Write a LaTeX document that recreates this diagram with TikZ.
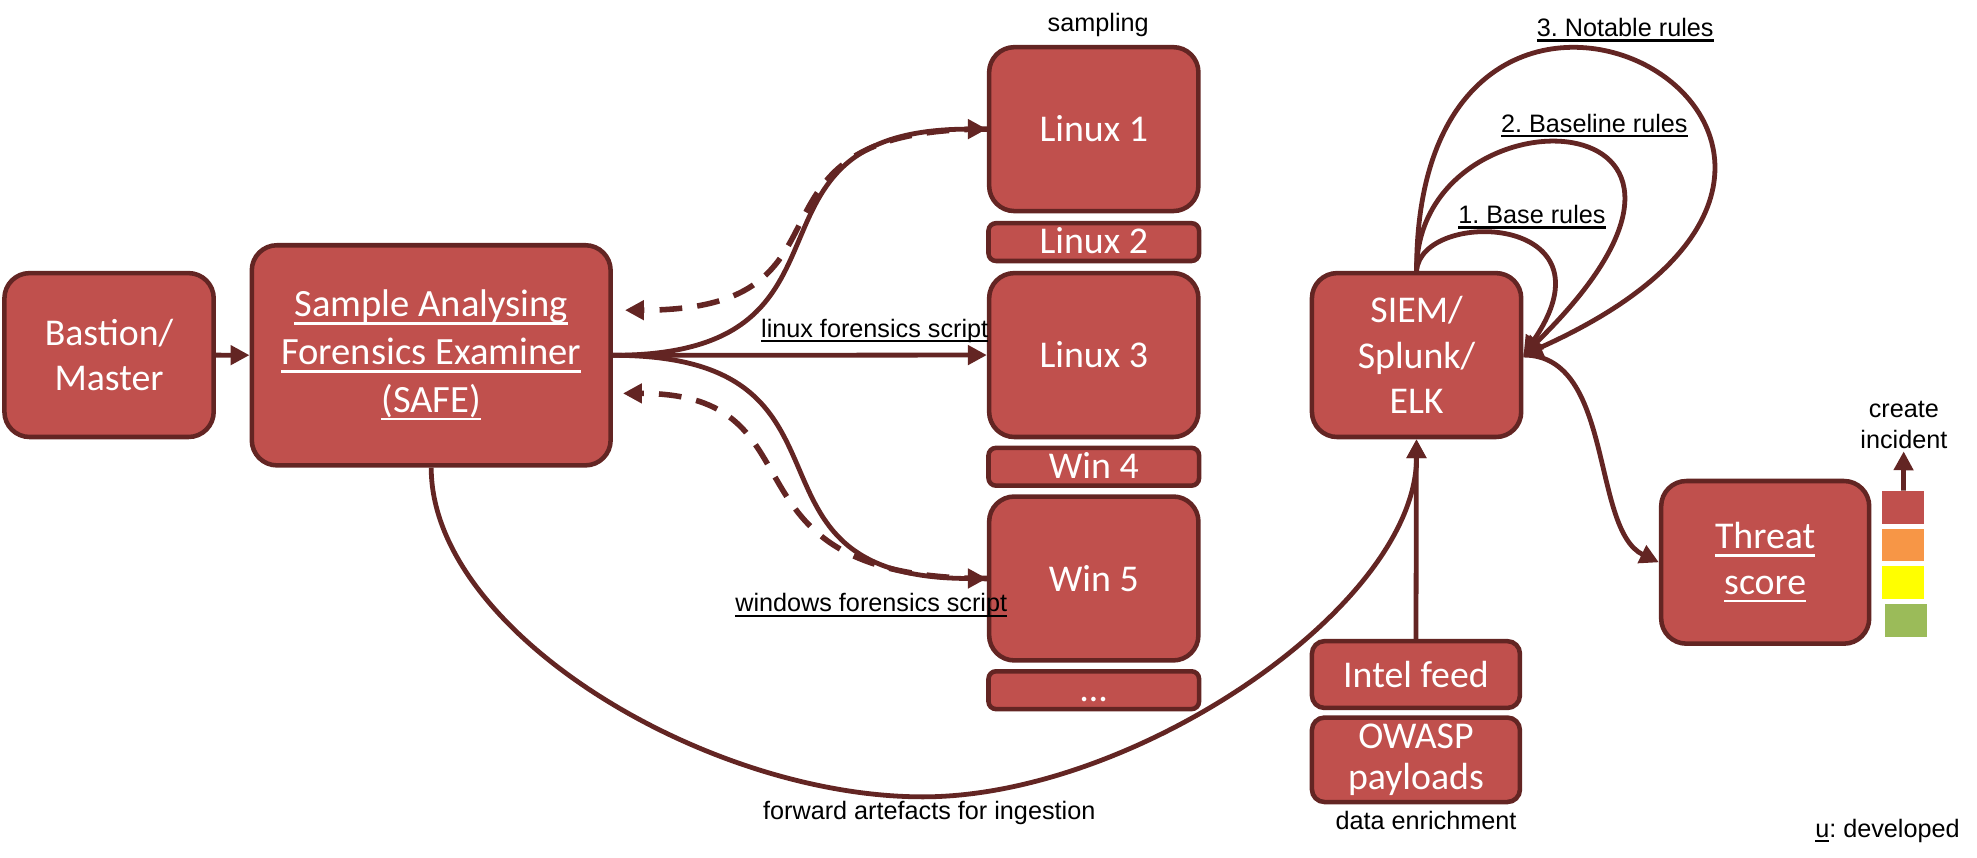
\documentclass[tikz,border=0pt]{standalone}
\usepackage{fontspec}
\setmainfont{Liberation Sans}
\newfontfamily\boxfont{Carlito}
\usetikzlibrary{arrows.meta,positioning,calc}
\definecolor{boxred}{RGB}{192,80,77}
\definecolor{darkred}{RGB}{99,37,35}
\definecolor{barorange}{RGB}{247,150,70}
\definecolor{baryellow}{RGB}{255,255,0}
\definecolor{bargreen}{RGB}{155,187,89}
\frenchspacing
% underline at a fixed depth
\newsavebox{\undlbox}
\newcommand{\undl}[1]{\leavevmode\sbox{\undlbox}{#1}\rlap{\rule[-0.2em]{\wd\undlbox}{0.9pt}}\usebox{\undlbox}}

\begin{document}
\begin{tikzpicture}[
    x=0.5pt, y=-0.5pt,
    >={Triangle[length=7.5pt,width=7.5pt]},
    node distance=3pt,
    box/.style={rectangle, draw=darkred, fill=boxred, line width=1.8pt, rounded corners=10pt, minimum width=83pt, minimum height=65pt, inner sep=2pt, text=white, align=center, font=\boxfont\fontsize{15}{18}\selectfont},
    slim/.style={box, rounded corners=3pt, minimum width=83.5pt, minimum height=15pt, text height=10pt, text depth=1pt},
    feed/.style={box, rounded corners=5pt, minimum width=82.5pt},
    bar/.style={rectangle, minimum width=16.5pt, minimum height=13pt, inner sep=0pt},
    lbl/.style={font=\fontsize{10}{12}\selectfont, inner sep=1pt, align=center},
    link/.style={draw=darkred, line width=1.9pt},
    back/.style={link, line width=2.2pt, dash pattern=on 9pt off 6pt}
]
    \useasboundingbox (0,0) rectangle (1568,680);

    % Entry and examiner
    \node[box] (bastion) at (86.5,281.6) {Bastion/\\Master};
    \node[box, minimum width=142.3pt, minimum height=87.3pt, font=\boxfont\fontsize{15.3}{19}\selectfont] (safe) at (342,281.8) {\undl{Sample Analysing}\\\undl{Forensics Examiner}\\\undl{(SAFE)}};

    % Sampled hosts
    \node[box] (lin3) at (867.5,281.6) {Linux 3};
    \node[slim, above=of lin3] (lin2) {Linux 2};
    \node[box, above=of lin2] (lin1) {Linux 1};
    \node[slim, below=2.5pt of lin3] (win4) {Win 4};
    \node[box, below=2.5pt of win4] (win5) {Win 5};
    \node[slim, below=2.5pt of win5] (more) {…};

    % SIEM and enrichment
    \node[box] (siem) at (1123.5,281.6) {SIEM/\\Splunk/\\ELK};
    \node[feed, minimum height=26.5pt] (intel) at (1123,535) {Intel feed};
    \node[feed, minimum height=33.5pt, below=2pt of intel, font=\boxfont\fontsize{15}{16.5}\selectfont] (owasp) {OWASP\\payloads};

    % Scoring
    \node[box, minimum height=64.5pt, minimum width=82.5pt] (threat) at (1400,446) {\undl{Threat}\\\undl{score}};
    \node[bar, fill=boxred] (bar1) at (1509.5,402.5) {};
    \node[bar, fill=barorange, below=1.5pt of bar1] (bar2) {};
    \node[bar, fill=baryellow, below=1.5pt of bar2] (bar3) {};
    \node[bar, fill=bargreen, below=1.5pt of bar3, xshift=1pt] (bar4) {};

    % Labels
    \node[lbl] (samp) at (871,20) {sampling};
    \node[lbl] (winlbl) at (691,480) {\undl{windows forensics script}};
    \node[lbl] (fwd) at (737,645) {forward artefacts for ingestion};
    \node[lbl] (rule1) at (1215,172) {\undl{1. Base rules}};
    \node[lbl] (rule2) at (1264.5,99.5) {\undl{2. Baseline rules}};
    \node[lbl] (rule3) at (1289,23.7) {\undl{3. Notable rules}};
    \node[lbl] (enrich) at (1131,651) {data enrichment};
    \node[lbl] (cinc) at (1510,337) {create\\incident};
    \node[lbl] (legend) at (1497,659) {\undl{u}: developed};

    % Scripts out, samples back
    \draw[link, ->] (bastion) -- (safe);
    \draw[link, ->] (safe.east) -- node[lbl, pos=0.7, above=3pt] (linlbl) {\undl{linux forensics script}} (lin3.west);
    \draw[link, ->] (safe.east) .. controls +(214,0) and +(-213,0) .. (lin1.west);
    \draw[link, ->] (safe.east) .. controls +(214,0) and +(-213,0) .. (win5.west);
    \draw[back, ->] (lin1.west) .. controls +(-213,0) and +(200,0) .. ([xshift=4.8pt,yshift=17.9pt]safe.east);
    \draw[back, ->] (win5.west) .. controls +(-223,0) and +(166,0) .. ([xshift=4pt,yshift=-15.1pt]safe.east);

    % Forwarding to the SIEM
    \coordinate (low) at (732,632);
    \draw[link, ->] (safe.south) .. controls +(0,130) and +(-172,0) .. (low) .. controls +(168,0) and +(0,132) .. (siem.south);
    \draw[link, ->] (intel) -- (siem);

    % Rule loops
    \draw[link, ->] (siem.north) .. controls +(4,-50) and +(77,-112) .. (siem.east);
    \draw[link, ->] (siem.north) .. controls +(0,-150) and +(212,-207) .. (siem.east);
    \draw[link, ->] (siem.north) .. controls +(0,-350) and +(375,-168) .. (siem.east);

    % Threat score
    \draw[link, ->] (siem.east) .. controls +(72,0) and +(-54,-26) .. (threat.west);
    \draw[link, ->] (bar1) -- (cinc);
\end{tikzpicture}
\end{document}
